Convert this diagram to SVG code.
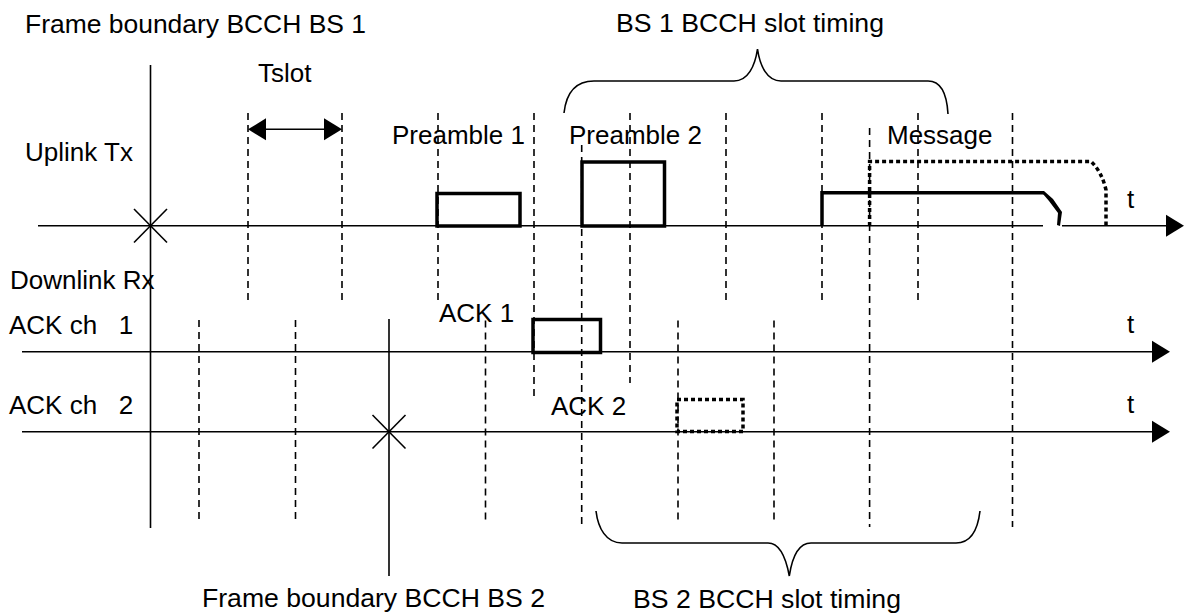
<svg xmlns="http://www.w3.org/2000/svg" width="1186" height="614" viewBox="0 0 1186 614">
<style>
text{font-family:"Liberation Sans",Arial,sans-serif;font-size:26px;fill:#000}
.ax{stroke:#000;stroke-width:1.6;fill:none}
.dash{stroke:#000;stroke-width:1.6;stroke-dasharray:7 5;fill:none}
.thick{stroke:#000;stroke-width:3.5;fill:none}
.dot{stroke:#000;stroke-width:3.5;stroke-dasharray:4 3;fill:none}
.brace{stroke:#000;stroke-width:1.6;fill:none}
.ah{fill:#000}
</style>
<rect width="1186" height="614" fill="#fff"/>
<g id="connectors">
  <!-- axes -->
  <line class="ax" x1="38" y1="225.7" x2="1043" y2="225.7"/>
  <line class="ax" x1="1062" y1="225.7" x2="1168" y2="225.7"/>
  <polygon class="ah" points="1166,214.7 1184,225.7 1166,236.7"/>
  <line class="ax" x1="22" y1="351.7" x2="1154" y2="351.7"/>
  <polygon class="ah" points="1152,340.7 1170,351.7 1152,362.7"/>
  <line class="ax" x1="22" y1="431.7" x2="1154" y2="431.7"/>
  <polygon class="ah" points="1152,420.7 1170,431.7 1152,442.7"/>
  <!-- frame boundaries -->
  <line class="ax" x1="150.5" y1="65" x2="150.5" y2="528"/>
  <line class="ax" x1="134" y1="209" x2="167" y2="242.5"/>
  <line class="ax" x1="167" y1="209" x2="134" y2="242.5"/>
  <line class="ax" x1="389" y1="319" x2="389" y2="576"/>
  <line class="ax" x1="372.5" y1="415" x2="405.5" y2="448.5"/>
  <line class="ax" x1="405.5" y1="415" x2="372.5" y2="448.5"/>
  <!-- BS1 slot lines -->
  <line class="dash" x1="248" y1="113" x2="248" y2="303"/>
  <line class="dash" x1="342" y1="113" x2="342" y2="303"/>
  <line class="dash" x1="438" y1="113" x2="438" y2="303"/>
  <line class="dash" x1="534" y1="113" x2="534" y2="398"/>
  <line class="dash" x1="630" y1="113" x2="630" y2="383"/>
  <line class="dash" x1="726" y1="113" x2="726" y2="303"/>
  <line class="dash" x1="822" y1="113" x2="822" y2="303"/>
  <line class="dash" x1="918" y1="113" x2="918" y2="303"/>
  <line class="dash" x1="1012.5" y1="113" x2="1012.5" y2="527"/>
  <!-- BS2 slot lines -->
  <line class="dash" x1="199" y1="320" x2="199" y2="523"/>
  <line class="dash" x1="295.5" y1="320" x2="295.5" y2="523"/>
  <line class="dash" x1="485.5" y1="320.5" x2="485.5" y2="523"/>
  <line class="dash" x1="581.7" y1="145" x2="581.7" y2="527"/>
  <line class="dash" x1="678" y1="320.5" x2="678" y2="523"/>
  <line class="dash" x1="774" y1="320.5" x2="774" y2="523"/>
  <line class="dash" x1="869.6" y1="128" x2="869.6" y2="527"/>
  <!-- Tslot arrow -->
  <line class="ax" x1="262" y1="129.3" x2="328" y2="129.3"/>
  <polygon class="ah" points="248,129.3 266,118.3 266,140.3"/>
  <polygon class="ah" points="342,129.3 324,118.3 324,140.3"/>
  <!-- braces -->
  <path class="brace" d="M564,113 C566,95 574,81 594,81 L734,81 C748,81 755,66 757.5,49 C760,66 767,81 781,81 L928,81 C942,81 947,96 948,114"/>
  <path class="brace" d="M596,511 C598,528 606,543 622,543 L768,543 C780,543 786,558 789.3,576 C792,558 798,543 811,543 L956,543 C972,543 978,528 980,511"/>
</g>
<g id="preamble1"><rect class="thick" x="437" y="193.5" width="83" height="32.5"/></g>
<g id="preamble2"><rect class="thick" x="582" y="162" width="82.5" height="64"/></g>
<g id="message">
  <path class="thick" d="M822,226 L822,192.7 L1044,192.7"/>
  <path d="M1044,191 L1053,199 L1062,212 L1060,226 L1057,225 L1058,213 L1049,201 L1043,194 Z" fill="#000"/>
  <path class="dot" d="M869.6,226 L869.6,161.5 L1091,161.5 Q1102,172 1106,190 L1106,226"/>
</g>
<g id="ack1box"><rect class="thick" x="533" y="319.5" width="67.5" height="33"/></g>
<g id="ack2box"><rect class="dot" x="677" y="399.5" width="66" height="32"/></g>
<g id="labels">
  <text x="25" y="33.3" textLength="341" lengthAdjust="spacingAndGlyphs">Frame boundary BCCH BS 1</text>
  <text x="616" y="32.3" textLength="268" lengthAdjust="spacingAndGlyphs">BS 1 BCCH slot timing</text>
  <text x="258" y="81.7">Tslot</text>
  <text x="25" y="161">Uplink Tx</text>
  <text x="392" y="144.3">Preamble 1</text>
  <text x="569" y="144.3">Preamble 2</text>
  <text x="887" y="144">Message</text>
  <text x="10" y="288.7">Downlink Rx</text>
  <text x="9" y="334.3" xml:space="preserve">ACK ch   1</text>
  <text x="439" y="321.7">ACK 1</text>
  <text x="9" y="414.3" xml:space="preserve">ACK ch   2</text>
  <text x="551" y="415">ACK 2</text>
  <text x="1127" y="208.3">t</text>
  <text x="1127" y="333">t</text>
  <text x="1127" y="413">t</text>
  <text x="202" y="607" textLength="343" lengthAdjust="spacingAndGlyphs">Frame boundary BCCH BS 2</text>
  <text x="633" y="608" textLength="268" lengthAdjust="spacingAndGlyphs">BS 2 BCCH slot timing</text>
</g>
</svg>
